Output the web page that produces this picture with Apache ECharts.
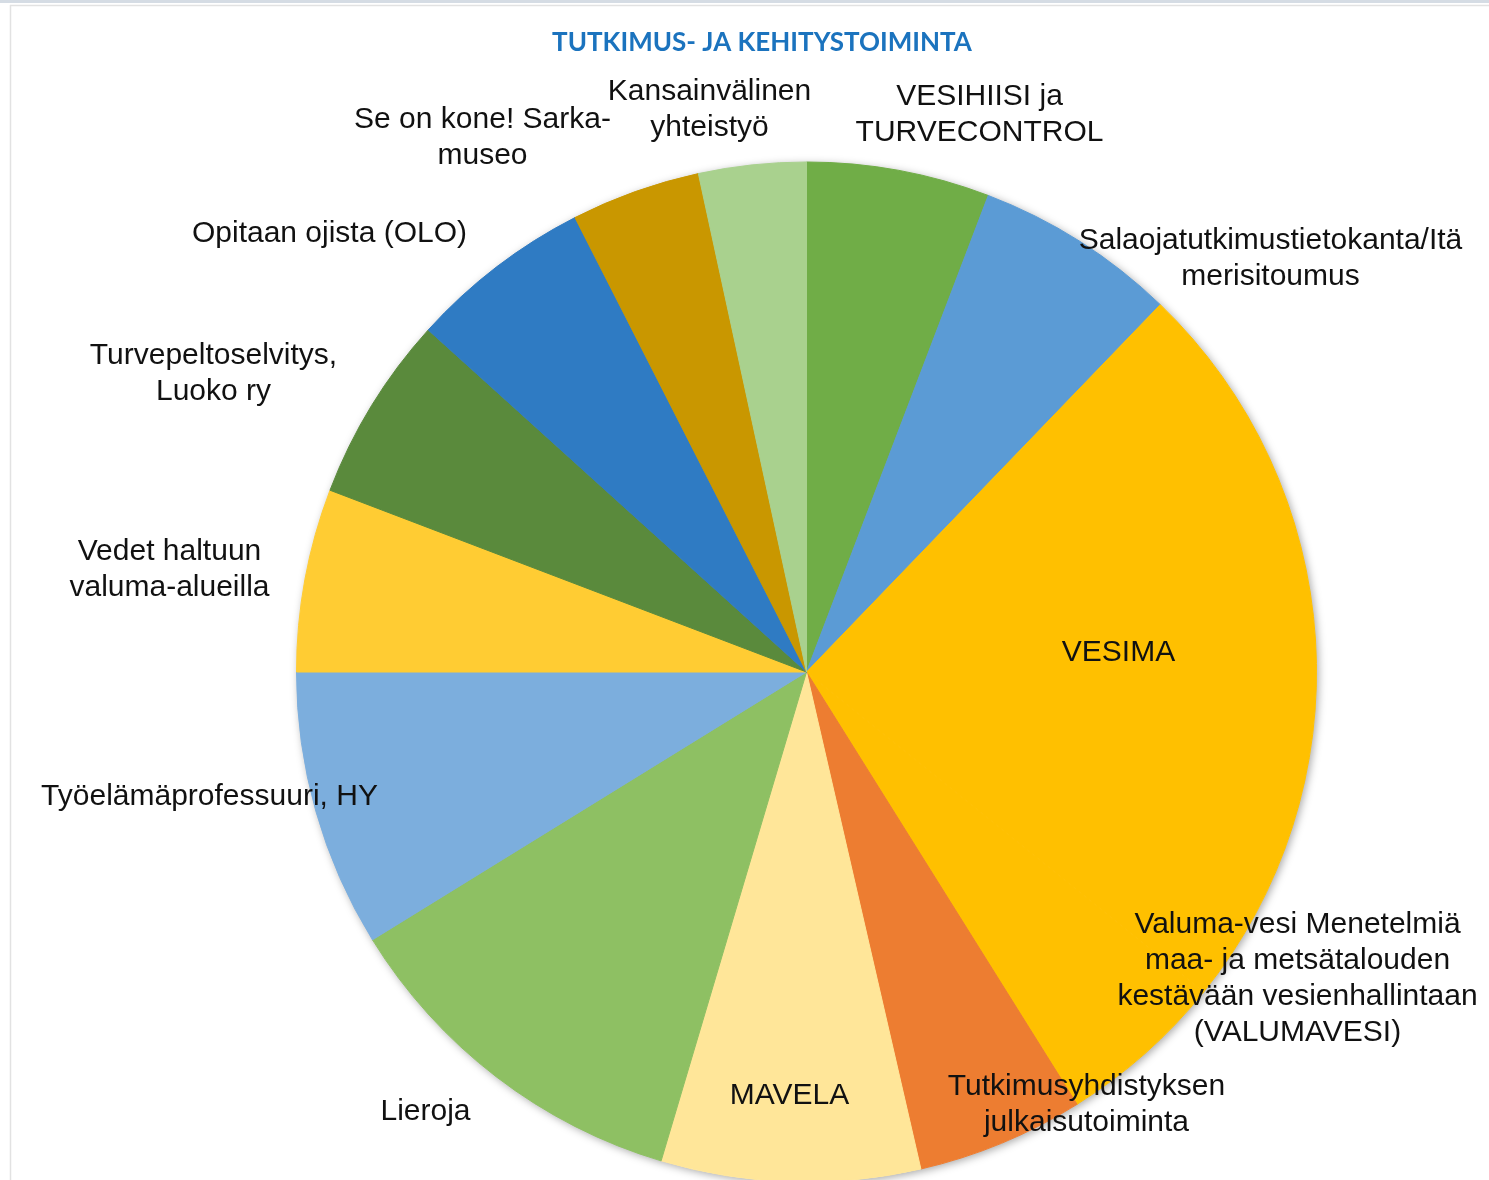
<!DOCTYPE html>
<html>
<head>
<meta charset="utf-8">
<script src="https://cdn.jsdelivr.net/npm/echarts@6/dist/echarts.min.js"></script>
<style>
  html, body { margin: 0; padding: 0; background: #fff; }
  #main { width: 1489px; height: 1180px; }
</style>
</head>
<body>
<div id="main"></div>
<script>
// slices, clockwise from 12 o'clock
var names = [
    'VESIHIISI ja\nTURVECONTROL',
    'Salaojatutkimustietokanta/Itä\nmerisitoumus',
    'VESIMA',
    'Valuma-vesi Menetelmiä\nmaa- ja metsätalouden\nkestävään vesienhallintaan\n(VALUMAVESI)',
    'Tutkimusyhdistyksen\njulkaisutoiminta',
    'MAVELA',
    'Lieroja',
    'Työelämäprofessuuri, HY',
    'Vedet haltuun\nvaluma-alueilla',
    'Turvepeltoselvitys,\nLuoko ry',
    'Opitaan ojista (OLO)',
    'Se on kone! Sarka-\nmuseo',
    'Kansainvälinen\nyhteistyö'
];
var values = [58, 64, 236, 53, 53, 82, 116, 88, 58, 59, 58, 41, 34];

var colors = [
    '#70AD47', '#5B9BD5', '#FFC000', '#FFC000', '#ED7D31', '#FFE699', '#8EC063',
    '#7CAEDD', '#FFCC33', '#5A8A3C', '#2F7BC3', '#C99700', '#A9D18E'
];

// label anchor offsets from the pie centre (layout only)
var labelOffsets = [
    [173, -557], [464, -413], [312, -19], [491, 307], [280, 433], [-17, 424], [-381, 440],
    [-597, 125], [-637, -102], [-593, -298], [-477, -438], [-324, -534], [-97, -562]
];

var cx = 806.5, cy = 672, r = 510;

var myChart = echarts.init(document.getElementById('main'));

var total = values.reduce(function (a, b) { return a + b; }, 0);

myChart.setOption({
    backgroundColor: '#fff',
    animation: false,
    title: {
        text: 'TUTKIMUS- JA KEHITYSTOIMINTA',
        left: 757,
        top: 25,
        textAlign: 'center',
        textStyle: {
            color: '#1B73BE',
            fontFamily: 'Lato',
            fontWeight: 'bold',
            fontSize: 26
        }
    },
    graphic: [
        { type: 'rect', shape: { x: 0, y: 0, width: 1489, height: 3 }, style: { fill: '#D5DCE4' }, silent: true },
        { type: 'line', shape: { x1: 10, y1: 5.5, x2: 1489, y2: 5.5 }, style: { stroke: '#E2E2E2', lineWidth: 1.5 }, silent: true },
        { type: 'line', shape: { x1: 10.5, y1: 5, x2: 10.5, y2: 1180 }, style: { stroke: '#E2E2E2', lineWidth: 1.5 }, silent: true }
    ],
    series: [{
        // soft shadow under the whole pie
        type: 'pie',
        silent: true,
        z: 1,
        center: [cx, cy],
        radius: r,
        label: { show: false },
        labelLine: { show: false },
        itemStyle: {
            color: '#fff',
            shadowBlur: 8,
            shadowColor: 'rgba(0,0,0,0.35)',
            shadowOffsetX: 2,
            shadowOffsetY: 2
        },
        data: [{ value: total, name: '' }]
    }, {
        type: 'pie',
        z: 2,
        center: [cx, cy],
        radius: r,
        startAngle: 90,
        clockwise: true,
        avoidLabelOverlap: false,
        label: {
            show: true,
            position: 'inside',
            color: '#111',
            fontFamily: 'Liberation Sans, Arial, sans-serif',
            fontSize: 30,
            lineHeight: 36,
            formatter: '{b}'
        },
        labelLine: { show: false },
        labelLayout: function (params) {
            var o = labelOffsets[params.dataIndex];
            return {
                x: cx + o[0],
                y: cy + o[1],
                align: 'center',
                verticalAlign: 'middle'
            };
        },
        data: names.map(function (n, i) {
            return {
                name: n,
                value: values[i],
                itemStyle: { color: colors[i], borderColor: colors[i], borderWidth: 1 }
            };
        })
    }]
});
</script>
</body>
</html>
